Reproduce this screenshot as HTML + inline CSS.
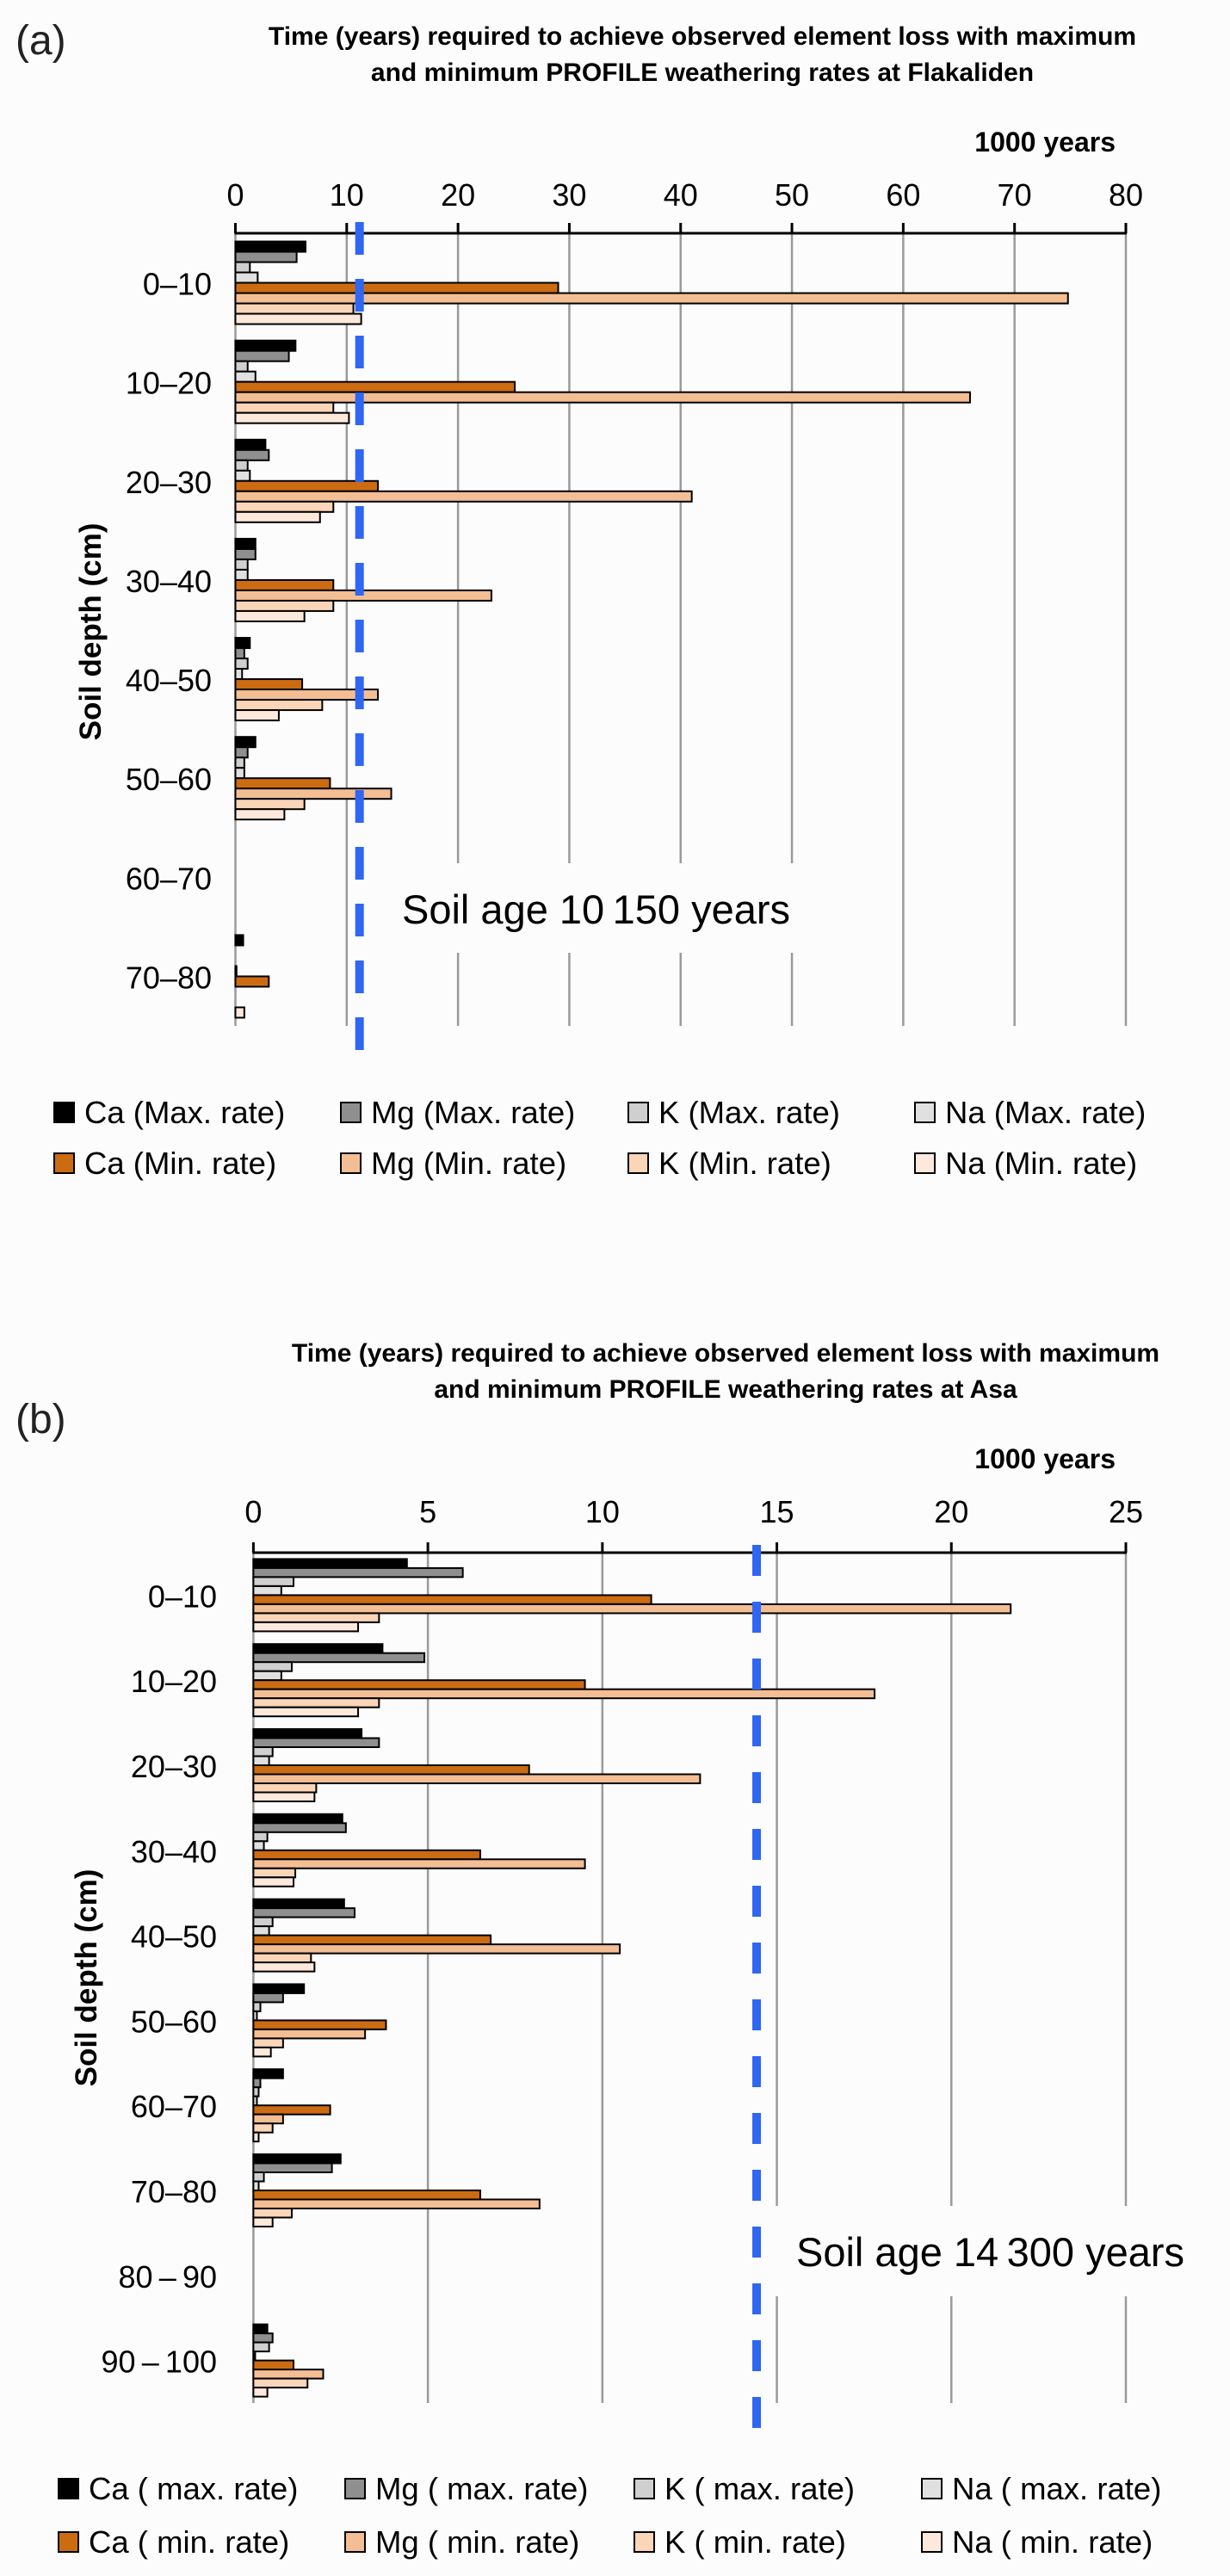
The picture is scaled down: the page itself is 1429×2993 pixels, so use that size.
<!DOCTYPE html>
<html><head><meta charset="utf-8"><title>Element loss time charts</title>
<style>
html,body{margin:0;padding:0;background:#fcfcfc;}
svg{display:block;font-family:"Liberation Sans",Arial,sans-serif;}
</style></head>
<body>
<svg id="fig" width="1429" height="2993" viewBox="0 0 1429 2993" xmlns="http://www.w3.org/2000/svg">
<rect x="0" y="0" width="1429" height="2993" fill="#fcfcfc"/>
<g id="chartA"></g>
<g id="chartB"></g>
</svg>
<script>
// ---------- Chart (a) Flakaliden data (1000 years) ----------
const catsA = ["0\u201310","10\u201320","20\u201330","30\u201340","40\u201350","50\u201360","60\u201370","70\u201380"];
const caMaxA = [6.3, 5.4, 2.7, 1.8, 1.3, 1.8, 0, 0.7];
const mgMaxA = [5.5, 4.8, 3.0, 1.8, 0.8, 1.1, 0, 0];
const kMaxA  = [1.3, 1.1, 1.1, 1.1, 1.1, 0.8, 0, 0];
const naMaxA = [2.0, 1.8, 1.3, 1.1, 0.6, 0.8, 0, 0.1];
const caMinA = [29, 25.1, 12.8, 8.8, 6.0, 8.5, 0, 3.0];
const mgMinA = [74.8, 66, 41, 23, 12.8, 14, 0, 0];
const kMinA  = [10.6, 8.8, 8.8, 8.8, 7.8, 6.2, 0, 0];
const naMinA = [11.3, 10.2, 7.6, 6.2, 3.9, 4.4, 0, 0.8];
const ticksA = [0,10,20,30,40,50,60,70,80];
const legendA = ["Ca (Max. rate)","Mg (Max. rate)","K (Max. rate)","Na (Max. rate)","Ca (Min. rate)","Mg (Min. rate)","K (Min. rate)","Na (Min. rate)"];
const soilAgeA = 11.15;

// ---------- Chart (b) Asa data (1000 years) ----------
const catsB = ["0\u201310","10\u201320","20\u201330","30\u201340","40\u201350","50\u201360","60\u201370","70\u201380","80\u2009\u2013\u200990","90\u2009\u2013\u2009100"];
const caMaxB = [4.4, 3.7, 3.1, 2.55, 2.6, 1.45, 0.85, 2.5, 0, 0.4];
const mgMaxB = [6.0, 4.9, 3.6, 2.65, 2.9, 0.85, 0.2, 2.25, 0, 0.55];
const kMaxB  = [1.15, 1.1, 0.55, 0.4, 0.55, 0.2, 0.15, 0.3, 0, 0.45];
const naMaxB = [0.8, 0.8, 0.45, 0.3, 0.45, 0.1, 0.1, 0.15, 0, 0.05];
const caMinB = [11.4, 9.5, 7.9, 6.5, 6.8, 3.8, 2.2, 6.5, 0, 1.15];
const mgMinB = [21.7, 17.8, 12.8, 9.5, 10.5, 3.2, 0.85, 8.2, 0, 2.0];
const kMinB  = [3.6, 3.6, 1.8, 1.2, 1.65, 0.85, 0.55, 1.1, 0, 1.55];
const naMinB = [3.0, 3.0, 1.75, 1.15, 1.75, 0.5, 0.15, 0.55, 0, 0.4];
const ticksB = [0,5,10,15,20,25];
const legendB = ["Ca ( max. rate)","Mg ( max. rate)","K ( max. rate)","Na ( max. rate)","Ca ( min. rate)","Mg ( min. rate)","K ( min. rate)","Na ( min. rate)"];
const soilAgeB = 14.42;

const colors = ["#000000","#8f8f8f","#cfcfcf","#e0e0e0","#cc6c12","#f4be94","#fad5b8","#fde9dc"];
const NS = "http://www.w3.org/2000/svg";

function mk(parent, tag, attrs, text){
  const el = document.createElementNS(NS, tag);
  for (const k in attrs) el.setAttribute(k, attrs[k]);
  if (text !== undefined) el.textContent = text;
  parent.appendChild(el);
  return el;
}

function draw(g, cfg){
  const series = cfg.series;
  const xs = v => cfg.x0 + (v - cfg.min) / (cfg.max - cfg.min) * (cfg.x1 - cfg.x0);
  const band = (cfg.bottom - cfg.axisY) / cfg.cats.length;
  const pad = (band - 8 * cfg.barH) / 2;

  const t1 = mk(g, "text", {x: cfg.titleX, y: cfg.titleY1, "text-anchor": "middle", "font-size": 30, "font-weight": "bold", fill: "#000"}, cfg.title1);
  
  
  const t2 = mk(g, "text", {x: cfg.titleX, y: cfg.titleY2, "text-anchor": "middle", "font-size": 30, "font-weight": "bold", fill: "#000"}, cfg.title2);
  
  
  const pl = mk(g, "text", {x: 18, y: cfg.panelY, "font-size": 48, fill: "#222"}, cfg.panel);
  
  
  const un = mk(g, "text", {x: 1296, y: cfg.unitY, "text-anchor": "end", "font-size": 32, "font-weight": "bold", fill: "#000"}, "1000 years");
  
  

  cfg.ticks.forEach(v => {
    const x = xs(v);
    if (v !== cfg.min) {
      const gl = mk(g, "line", {x1: x, x2: x, y1: cfg.axisY, y2: cfg.bottom, stroke: "#9a9a9a", "stroke-width": 2.5});
      
      
    }
    const tk = mk(g, "line", {x1: x, x2: x, y1: cfg.axisY - 12, y2: cfg.axisY, stroke: "#000", "stroke-width": 3});
    
    
    const tl = mk(g, "text", {x: x, y: cfg.tickY, "text-anchor": "middle", "font-size": 36, fill: "#000"}, String(v));
    
    
  });
  const ya = mk(g, "line", {x1: cfg.x0, x2: cfg.x0, y1: cfg.axisY, y2: cfg.bottom, stroke: "#9a9a9a", "stroke-width": 2.5});
  
  
  const xa = mk(g, "line", {x1: cfg.x0 - 1, x2: cfg.x1 + 1, y1: cfg.axisY, y2: cfg.axisY, stroke: "#000", "stroke-width": 3});
  
  

  const bx = mk(g, "rect", {x: cfg.boxX, y: cfg.boxY, width: cfg.boxW, height: cfg.boxH, fill: "#fcfcfc"});
  
  

  cfg.cats.forEach((c, i) => {
    const top = cfg.axisY + i * band;
    const cl = mk(g, "text", {x: cfg.catX, y: top + band / 2 + 14, "text-anchor": "end", "font-size": 36, fill: "#000"}, c);
    
    
    series.forEach((arr, j) => {
      const v = arr[i];
      if (v <= 0) return;
      const r = mk(g, "rect", {x: xs(0), y: top + pad + j * cfg.barH, width: Math.max(0, xs(v) - xs(0)), height: cfg.barH, fill: colors[j], stroke: "#000", "stroke-width": 2});
      
      
    });
  });

  const dl = mk(g, "line", {x1: xs(cfg.soilAge), x2: xs(cfg.soilAge), y1: cfg.dashY1, y2: cfg.dashY2, stroke: "#2f66f2", "stroke-width": 10, "stroke-dasharray": cfg.dash});
  
  
  const st = mk(g, "text", {x: cfg.ageX, y: cfg.ageY, "font-size": 47, fill: "#000"}, cfg.ageText);
  
  

  const yt = mk(g, "text", {x: 0, y: 0, transform: "translate(" + (cfg.yTitleX) + "," + cfg.yTitleY + ") rotate(-90)", "text-anchor": "middle", "font-size": 35, "font-weight": "bold", fill: "#000"}, "Soil depth (cm)");
  
  

  cfg.legend.forEach((name, j) => {
    const col = j % 4, row = Math.floor(j / 4);
    const lx = cfg.legX[col], ly = cfg.legY[row];
    const lg = mk(g, "g", {});
    
    
    mk(lg, "rect", {x: lx, y: ly - 24, width: 23, height: 23, fill: colors[j], stroke: "#000", "stroke-width": 2});
    mk(lg, "text", {x: lx + 35, y: ly, "font-size": 36.5, fill: "#000"}, name);
  });
}

draw(document.getElementById("chartA"), {
  cats: catsA, series: [caMaxA, mgMaxA, kMaxA, naMaxA, caMinA, mgMinA, kMinA, naMinA],
  legend: legendA, ticks: ticksA, min: 0, max: 80, soilAge: soilAgeA,
  x0: 273.5, x1: 1308, axisY: 271, bottom: 1192, barH: 12,
  title1: "Time (years) required to achieve observed element loss with maximum",
  title2: "and minimum PROFILE weathering rates at Flakaliden",
  titleX: 816, titleY1: 52, titleY2: 94, panel: "(a)", panelY: 63, unitY: 176, tickY: 239,
  catX: 246, boxX: 447, boxY: 1003, boxW: 551, boxH: 104,
  dashY1: 258, dashY2: 1222, dash: "38 28",
  ageX: 467, ageY: 1073, ageText: "Soil age 10\u2009150 years",
  yTitleX: 117, yTitleY: 734,
  legX: [63, 396, 730, 1063], legY: [1305, 1364]
});

draw(document.getElementById("chartB"), {
  cats: catsB, series: [caMaxB, mgMaxB, kMaxB, naMaxB, caMinB, mgMinB, kMinB, naMinB],
  legend: legendB, ticks: ticksB, min: 0, max: 25, soilAge: soilAgeB,
  x0: 294.4, x1: 1308, axisY: 1804, bottom: 2792, barH: 10.5,
  title1: "Time (years) required to achieve observed element loss with maximum",
  title2: "and minimum PROFILE weathering rates at Asa",
  titleX: 843, titleY1: 1582, titleY2: 1624, panel: "(b)", panelY: 1665, unitY: 1706, tickY: 1769,
  catX: 252, boxX: 898, boxY: 2563, boxW: 510, boxH: 105,
  dashY1: 1795, dashY2: 2827, dash: "36 30",
  ageX: 925, ageY: 2633, ageText: "Soil age 14\u2009300 years",
  yTitleX: 112, yTitleY: 2298,
  legX: [68, 401, 737, 1071], legY: [2904, 2966]
});
</script>
</body></html>
